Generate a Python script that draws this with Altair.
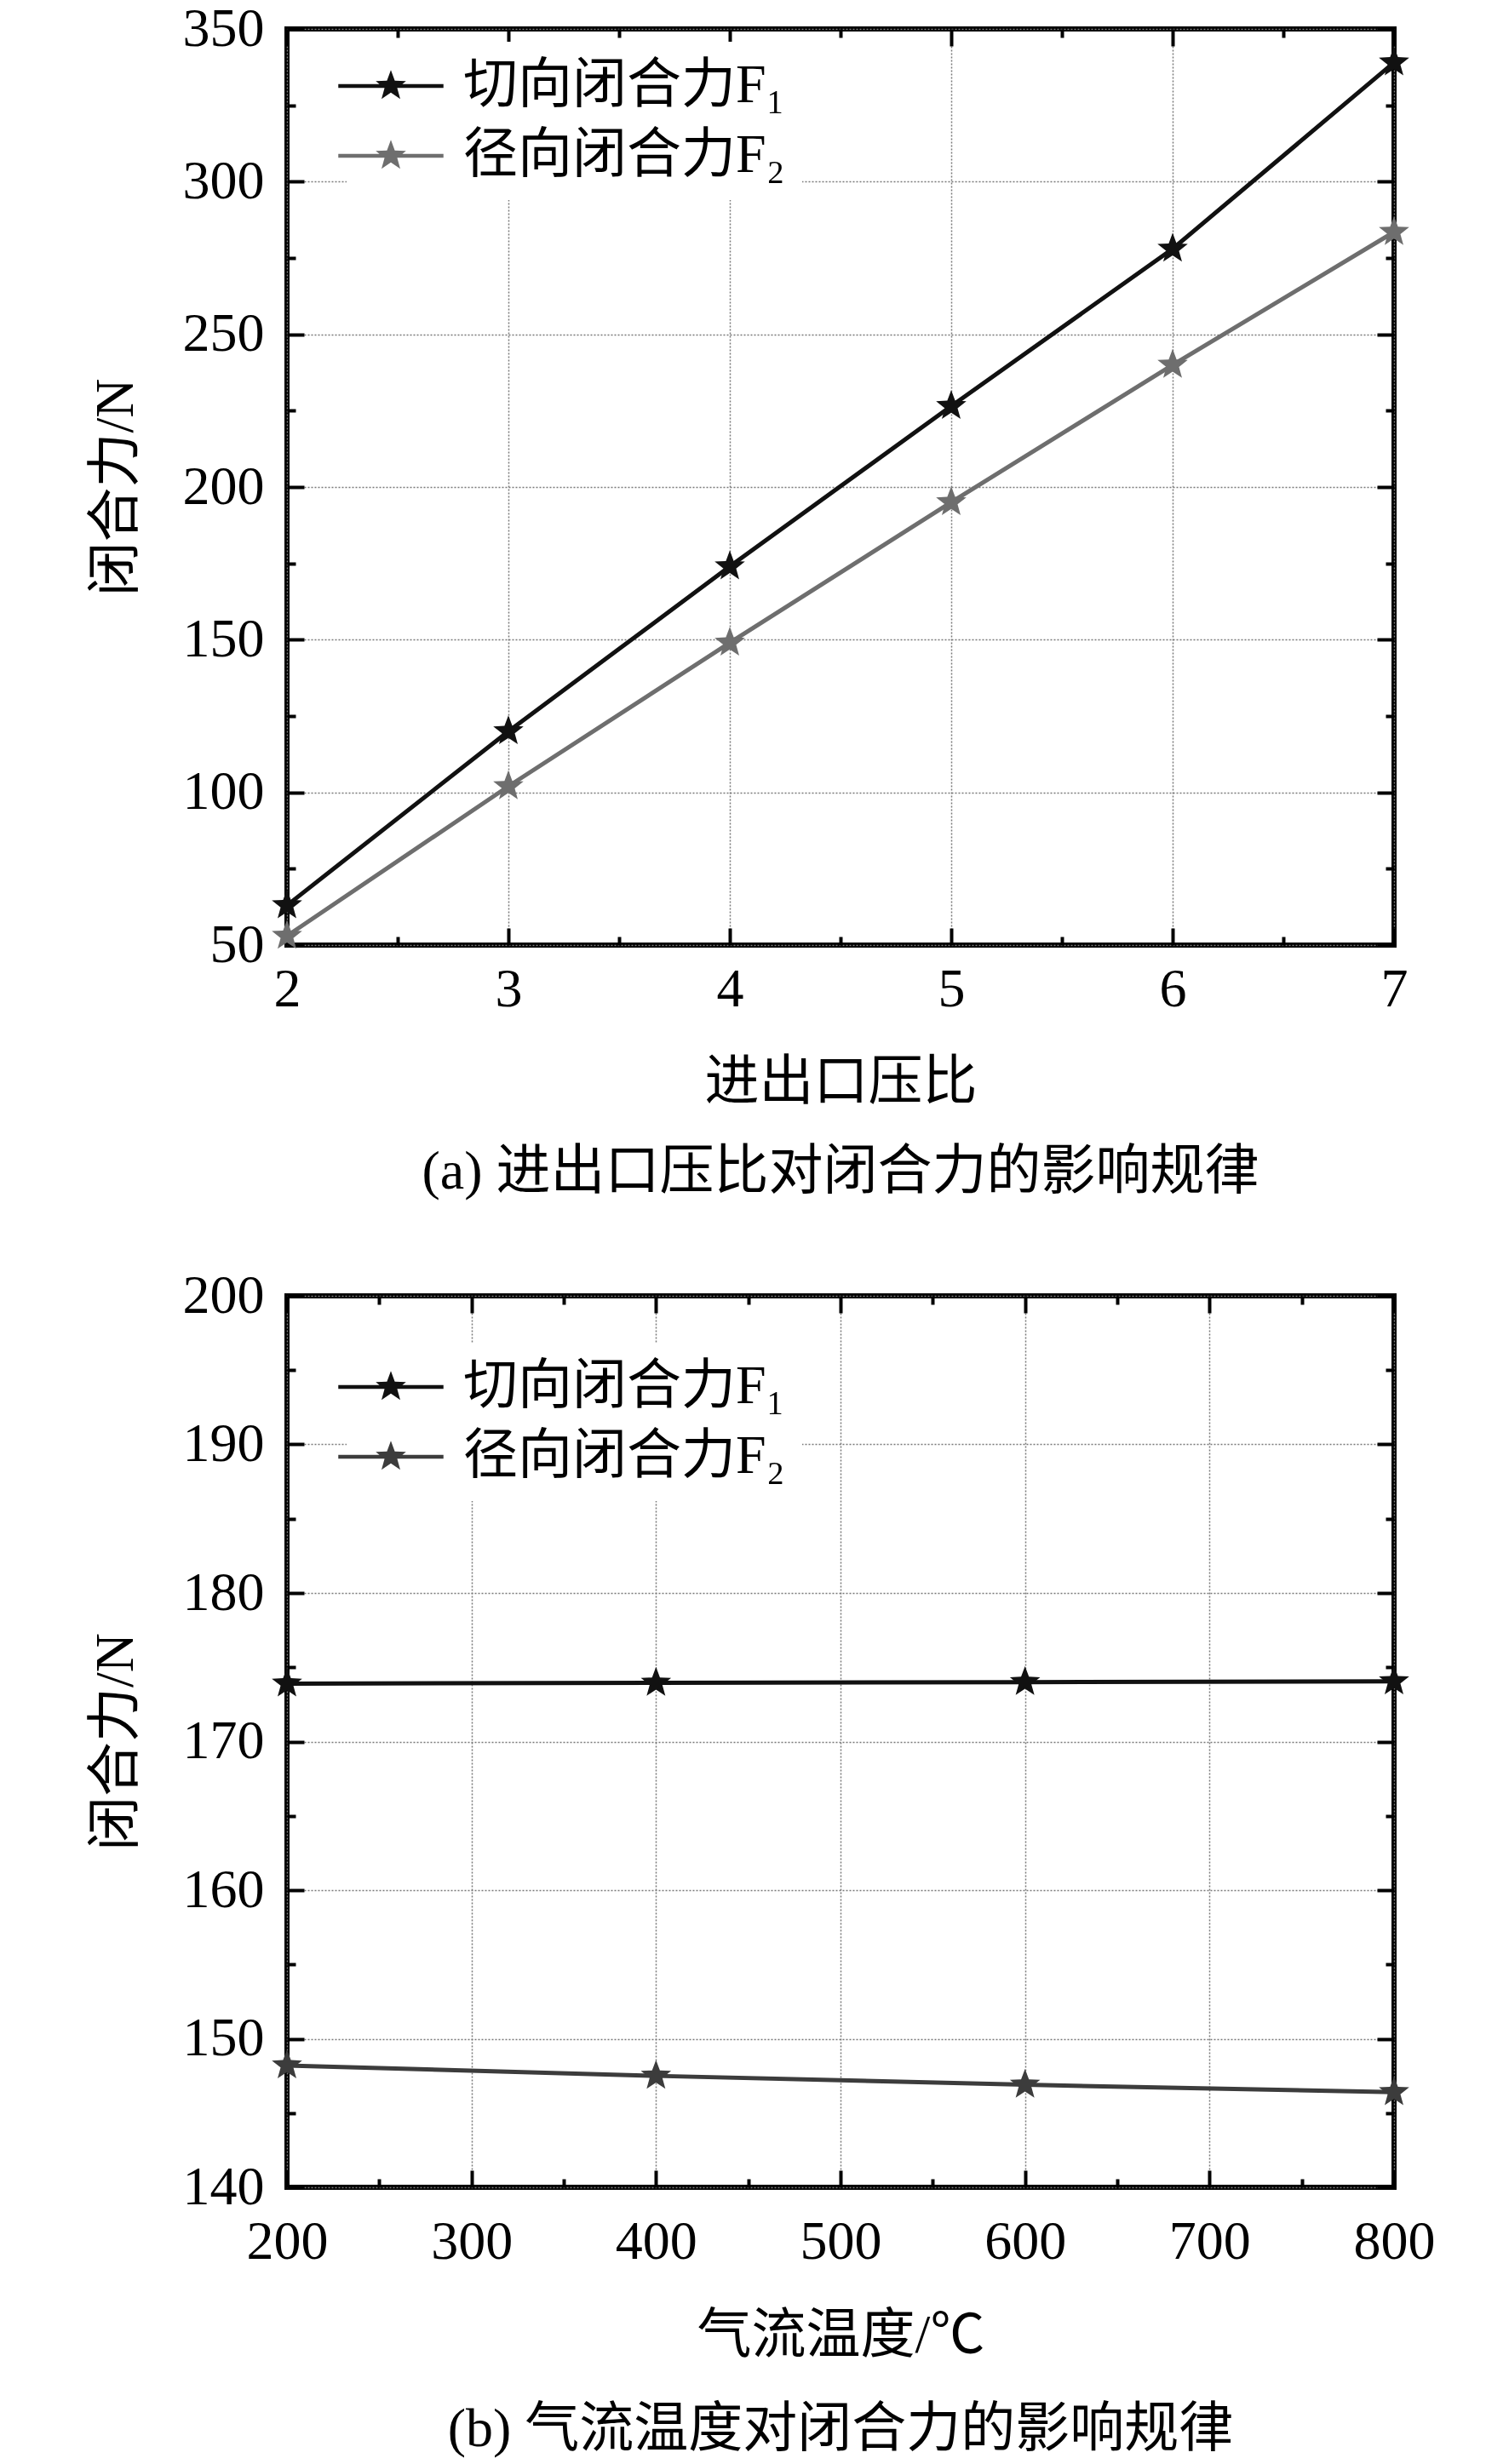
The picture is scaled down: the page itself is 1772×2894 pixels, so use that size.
import math
import altair as alt
import pandas as pd

# ---------------- data ----------------
SERIES = ["切向闭合力F₁", "径向闭合力F₂"]

# (a) pressure ratio
X_A = [2, 3, 4, 5, 6, 7]
F1_A = [63, 120, 174, 226.5, 278, 339]
F2_A = [53, 102, 149, 195, 240, 283.5]

# (b) gas temperature
X_B = [200, 400, 600, 800]
F1_B = [173.9, 173.95, 174.0, 174.05]
F2_B = [148.2, 147.5, 146.9, 146.4]

# tick positions / labels
XLAB_A = [2, 3, 4, 5, 6, 7]
YLAB_A = [50, 100, 150, 200, 250, 300, 350]
XTICK_A = [2, 2.5, 3, 3.5, 4, 4.5, 5, 5.5, 6, 6.5, 7]
YTICK_A = [50, 75, 100, 125, 150, 175, 200, 225, 250, 275, 300, 325, 350]

XLAB_B = [200, 300, 400, 500, 600, 700, 800]
YLAB_B = [140, 150, 160, 170, 180, 190, 200]
XTICK_B = [200, 250, 300, 350, 400, 450, 500, 550, 600, 650, 700, 750, 800]
YTICK_B = [140, 145, 150, 155, 160, 165, 170, 175, 180, 185, 190, 195, 200]

TITLE_A = "(a) 进出口压比对闭合力的影响规律"
TITLE_B = "(b) 气流温度对闭合力的影响规律"
XT_A = "进出口压比"
XT_B = "气流温度/℃"
YT = "闭合力/N"

FONT = "Liberation Serif, Noto Sans CJK SC"
FS = 64
MSIZE = 1400


def star(r_in=0.42):
    pts = []
    for k in range(10):
        a = -math.pi / 2 + k * math.pi / 5
        r = 1.0 if k % 2 == 0 else r_in
        pts.append(f"{r * math.cos(a):.4f},{r * math.sin(a):.4f}")
    return "M" + "L".join(pts) + "Z"


STAR = star()
LEG_PATH = "M-3.3,-0.12H3.3V0.12H-3.3Z" + STAR


def tsize(step, big=20, small=10):
    return {
        "condition": {
            "test": f"abs(datum.value/{step} - round(datum.value/{step})) < 0.000001",
            "value": big,
        },
        "value": small,
    }


def tick_axis(orient, offset, values, step):
    return alt.Axis(
        orient=orient, offset=offset, values=values, labels=False, domain=False,
        grid=False, ticks=True, tickSize=tsize(step), tickWidth=4,
        tickColor="black", title=None,
    )


def panel(xs, f1, f2, xdom, ydom, xlab, ylab, xticks, yticks, xstep, ystep,
          W, H, xtitle, caption, colors, leg_x, leg_y, xlab_pad, xtitle_pad, cap_off):
    df = pd.DataFrame({
        "x": xs + xs,
        "v": f1 + f2,
        "s": [SERIES[0]] * len(xs) + [SERIES[1]] * len(xs),
    })
    base = alt.Chart(df)
    xsc = alt.Scale(domain=xdom, nice=False, zero=False)
    ysc = alt.Scale(domain=ydom, nice=False, zero=False)
    cscale = alt.Scale(domain=SERIES, range=colors)

    main_x = alt.Axis(
        values=xlab, labelFont=FONT, labelFontSize=FS, labelColor="black",
        labelPadding=xlab_pad, labelFlush=False, labelOverlap=False,
        ticks=False, tickSize=0, domain=False, grid=True, gridColor="#7a7a7a",
        gridDash=[2, 2], gridWidth=1.5, title=xtitle, titleFont=FONT,
        titleFontSize=FS, titleFontWeight="normal", titleColor="black",
        titlePadding=xtitle_pad,
    )
    main_y = alt.Axis(
        values=ylab, labelFont=FONT, labelFontSize=FS, labelColor="black",
        labelPadding=27, labelOverlap=False, ticks=False, tickSize=0,
        domain=False, grid=True, gridColor="#7a7a7a", gridDash=[2, 2],
        gridWidth=1.5, title=YT, titleFont=FONT, titleFontSize=FS,
        titleFontWeight="normal", titleColor="black", titlePadding=46,
    )
    legend = alt.Legend(
        title=None, orient="none", legendX=leg_x, legendY=leg_y,
        symbolType=LEG_PATH, symbolSize=MSIZE, symbolStrokeWidth=0,
        labelFont=FONT, labelFontSize=FS, labelColor="black",
        labelOffset=53, labelLimit=1000, rowPadding=18, padding=20,
        fillColor="white",
    )

    lines = base.mark_line(strokeWidth=5).encode(
        x=alt.X("x:Q", scale=xsc, axis=main_x),
        y=alt.Y("v:Q", scale=ysc, axis=main_y),
        color=alt.Color("s:N", scale=cscale, legend=legend),
    )
    pts = base.mark_point(filled=True, shape=STAR, size=MSIZE, opacity=1).encode(
        x=alt.X("x:Q", scale=xsc, axis=tick_axis("top", -H, xticks, xstep)),
        y=alt.Y("v:Q", scale=ysc, axis=tick_axis("right", -W, yticks, ystep)),
        color=alt.Color("s:N", scale=cscale, legend=legend),
    )
    ghost = base.mark_point(opacity=0).encode(
        x=alt.X("x:Q", scale=xsc, axis=tick_axis("bottom", -H, xticks, xstep)),
        y=alt.Y("v:Q", scale=ysc, axis=tick_axis("left", -W, yticks, ystep)),
    )
    return alt.layer(lines, pts, ghost).resolve_axis(
        x="independent", y="independent"
    ).properties(
        width=W, height=H,
        title=alt.TitleParams(
            caption, orient="bottom", font=FONT, fontSize=FS,
            fontWeight="normal", color="black", offset=cap_off,
            anchor="middle", frame="group",
        ),
    )


pa = panel(X_A, F1_A, F2_A, [2, 7], [50, 350], XLAB_A, YLAB_A, XTICK_A, YTICK_A,
           1, 50, 1300, 1076, XT_A, TITLE_A, ["#111111", "#6e6e6e"],
           70, 15, 20, 45, 42)
pb = panel(X_B, F1_B, F2_B, [200, 800], [140, 200], XLAB_B, YLAB_B, XTICK_B, YTICK_B,
           100, 10, 1300, 1047, XT_B, TITLE_B, ["#111111", "#3c3c3c"],
           70, 55, 32, 46, 47)

chart = alt.vconcat(pa, pb, spacing=75).resolve_scale(
    color="independent"
).resolve_legend(
    color="independent"
).properties(
    padding={"left": 93, "top": -9, "right": 5, "bottom": 0},
    background="white",
).configure_view(stroke="black", strokeWidth=6)

chart.save("out.html", embed_options={"renderer": "svg", "actions": False})
